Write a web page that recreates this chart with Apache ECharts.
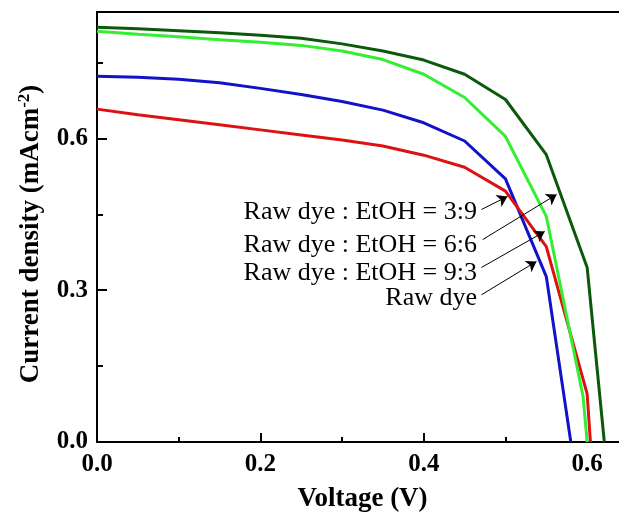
<!DOCTYPE html>
<html>
<head>
<meta charset="utf-8">
<script src="https://cdn.jsdelivr.net/npm/echarts@6/dist/echarts.min.js"></script>
<style>
  html, body { margin: 0; padding: 0; background: #fff; }
  #chart { width: 619px; height: 512px; }
</style>
</head>
<body>
<div id="chart"></div>
<script>
// J-V curves
const vRaw = [0, 0.05, 0.1, 0.15, 0.2, 0.25, 0.3, 0.35, 0.4, 0.45, 0.5, 0.55, 0.58];
const jRaw = [0.723, 0.721, 0.717, 0.710, 0.699, 0.687, 0.673, 0.656, 0.631, 0.595, 0.520, 0.327, 0];

const v39 = [0, 0.05, 0.1, 0.15, 0.2, 0.25, 0.3, 0.35, 0.4, 0.45, 0.5, 0.55, 0.6, 0.604];
const j39 = [0.658, 0.647, 0.637, 0.627, 0.617, 0.607, 0.597, 0.585, 0.567, 0.543, 0.496, 0.386, 0.095, 0];

const v66 = [0, 0.05, 0.1, 0.15, 0.2, 0.25, 0.3, 0.35, 0.4, 0.45, 0.5, 0.55, 0.6, 0.621];
const j66 = [0.820, 0.817, 0.813, 0.809, 0.804, 0.798, 0.787, 0.773, 0.755, 0.727, 0.677, 0.568, 0.345, 0];

const v93 = [0, 0.05, 0.1, 0.15, 0.2, 0.25, 0.3, 0.35, 0.4, 0.45, 0.5, 0.55, 0.595, 0.6];
const j93 = [0.812, 0.806, 0.801, 0.795, 0.790, 0.784, 0.773, 0.756, 0.727, 0.681, 0.604, 0.446, 0.09, 0];

const seriesNames = ['Raw dye : EtOH = 3:9', 'Raw dye : EtOH = 6:6', 'Raw dye : EtOH = 9:3', 'Raw dye'];
const seriesColors = ['#dd1111', '#0b5a0b', '#33ee33', '#1212c8'];

// arrows: [text end point, arrow tip] in data units
const arrows = [
  [[0.4706, 0.4596], [0.5024, 0.4853]],
  [[0.4720, 0.4000], [0.5626, 0.4892]],
  [[0.4706, 0.3450], [0.5480, 0.4160]],
  [[0.4706, 0.2910], [0.5380, 0.3570]]
];

const FONT = 'Liberation Serif';
const zip = (xs, ys) => xs.map((x, i) => [x, ys[i]]);

const chart = echarts.init(document.getElementById('chart'));

const mkSeries = (name, xs, ys, color) => ({
  name: name,
  type: 'line',
  data: zip(xs, ys),
  symbol: 'none',
  lineStyle: { color: color, width: 3 },
  itemStyle: { color: color },
  z: 3
});

const option = {
  backgroundColor: '#ffffff',
  animation: false,
  grid: {
    left: 97, top: 12, width: 531, height: 430,
    outerBoundsMode: 'none', containLabel: false,
    show: true, borderColor: '#000', borderWidth: 2
  },
  xAxis: [{
    type: 'value', min: 0, max: 0.65, interval: 0.2,
    name: 'Voltage (V)', nameLocation: 'middle', nameGap: 44,
    nameTextStyle: { fontFamily: FONT, fontWeight: 'bold', fontSize: 27, color: '#000' },
    axisLine: { lineStyle: { color: '#000', width: 2 } },
    axisTick: { inside: true, length: 9, lineStyle: { color: '#000', width: 2 } },
    axisLabel: {
      fontFamily: FONT, fontWeight: 'bold', fontSize: 25, color: '#000', margin: 10,
      formatter: v => (v > 0.61 ? '' : v.toFixed(1))
    },
    splitLine: { show: false }
  }, {
    type: 'value', min: 0, max: 0.65, interval: 0.1, position: 'bottom',
    axisLine: { show: false },
    axisTick: { inside: true, length: 5, lineStyle: { color: '#000', width: 2 } },
    axisLabel: { show: false },
    splitLine: { show: false }
  }],
  yAxis: [{
    type: 'value', min: 0, max: 0.85, interval: 0.3,
    name: '{a|Current density (mAcm}{s|-2}{a|)}', nameLocation: 'middle', nameGap: 51,
    nameRotate: 90,
    nameTextStyle: {
      padding: [0, 14, 0, 0],
      rich: {
        a: { fontFamily: FONT, fontWeight: 'bold', fontSize: 27, color: '#000', lineHeight: 30 },
        s: { fontFamily: FONT, fontWeight: 'bold', fontSize: 17, color: '#000', verticalAlign: 'top', lineHeight: 30, padding: [0, 0, 12, 0] }
      }
    },
    axisLine: { lineStyle: { color: '#000', width: 2 } },
    axisTick: { inside: true, length: 10, lineStyle: { color: '#000', width: 2 } },
    axisLabel: {
      fontFamily: FONT, fontWeight: 'bold', fontSize: 25, color: '#000', margin: 9,
      formatter: v => (v > 0.8 ? '' : v.toFixed(1))
    },
    splitLine: { show: false }
  }, {
    type: 'value', min: 0, max: 0.85, interval: 0.15, position: 'left',
    axisLine: { show: false },
    axisTick: { inside: true, length: 6, lineStyle: { color: '#000', width: 2 } },
    axisLabel: { show: false },
    splitLine: { show: false }
  }],
  series: [
    mkSeries(seriesNames[3], vRaw, jRaw, seriesColors[3]),
    mkSeries(seriesNames[0], v39, j39, seriesColors[0]),
    mkSeries(seriesNames[2], v93, j93, seriesColors[2]),
    mkSeries(seriesNames[1], v66, j66, seriesColors[1]),
    {
      name: 'arrows',
      type: 'line',
      data: [],
      markLine: {
        silent: true,
        animation: false,
        symbol: ['none', 'arrow'],
        symbolSize: [10, 10],
        label: { show: false },
        lineStyle: { color: '#000', width: 1, type: 'solid' },
        data: arrows.map(a => [{ coord: a[0] }, { coord: a[1] }])
      },
      z: 5
    }
  ],
  graphic: seriesNames.map((name, i) => ({
    type: 'text',
    x: 477,
    y: [212, 245, 273, 298][i],
    style: {
      text: name,
      align: 'right',
      verticalAlign: 'middle',
      font: '26px "Liberation Serif"',
      fill: '#000'
    },
    z: 10
  }))
};

chart.setOption(option);
</script>
</body>
</html>
